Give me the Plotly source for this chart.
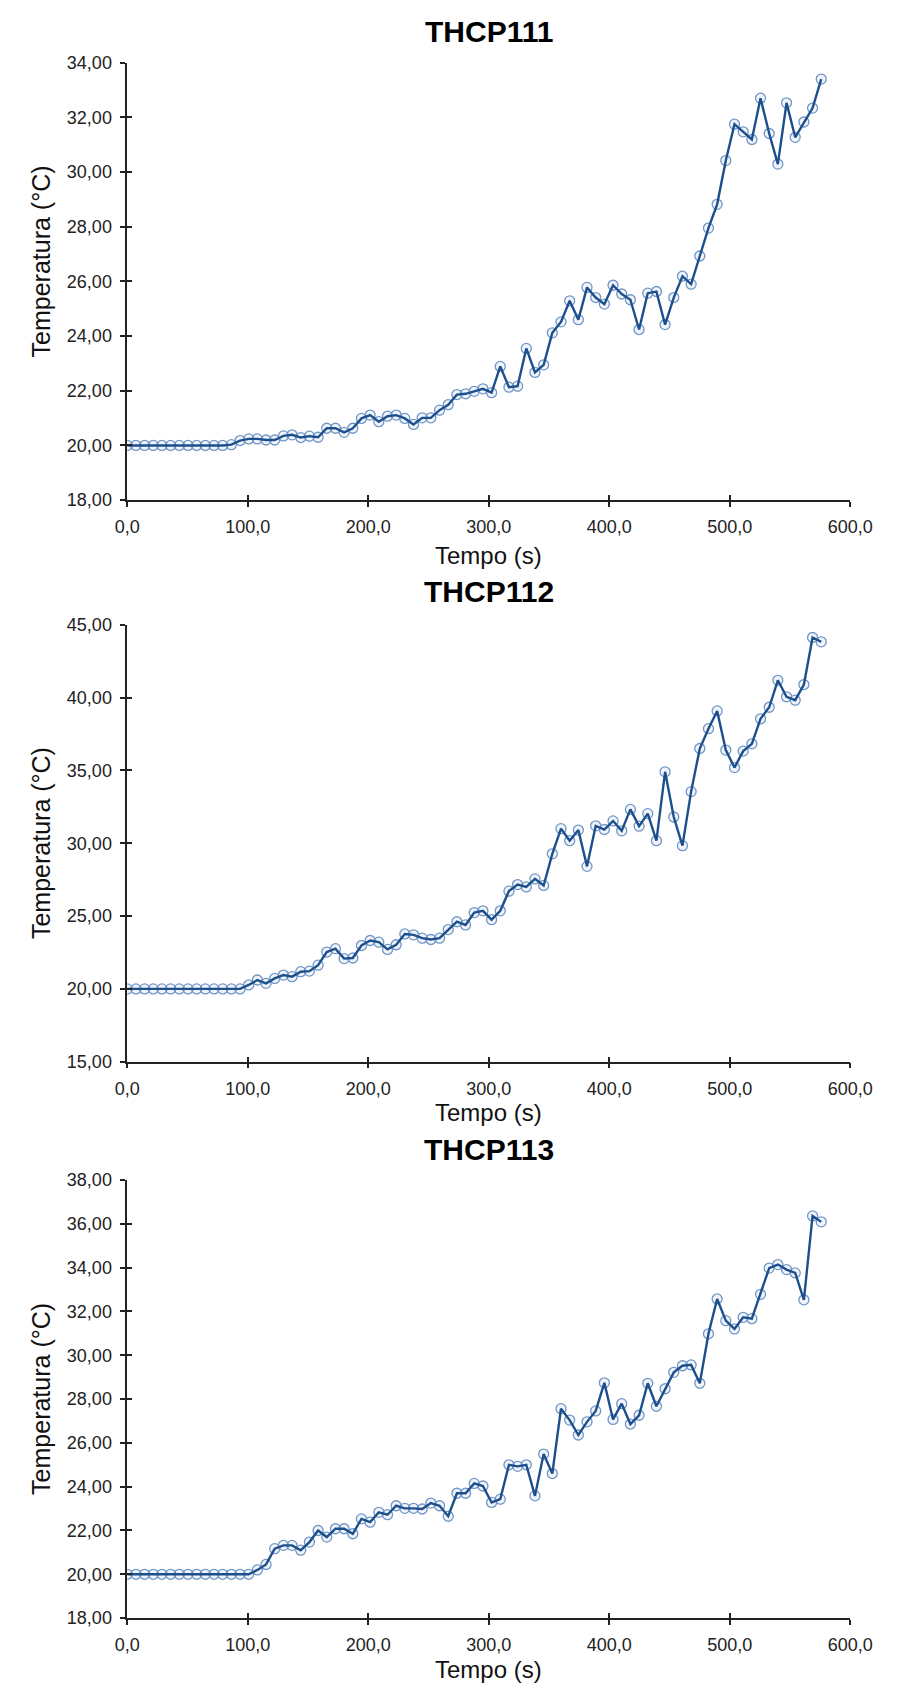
import plotly.graph_objects as go

tempo = [0.0, 7.2, 14.4, 21.6, 28.8, 36.0, 43.2, 50.4, 57.6, 64.8, 72.0, 79.2, 86.4, 93.6,
         100.8, 108.0, 115.2, 122.4, 129.6, 136.8, 144.0, 151.2, 158.4, 165.6, 172.8, 180.0,
         187.2, 194.4, 201.6, 208.8, 216.0, 223.2, 230.4, 237.6, 244.8, 252.0, 259.2, 266.4,
         273.6, 280.8, 288.0, 295.2, 302.4, 309.6, 316.8, 324.0, 331.2, 338.4, 345.6, 352.8,
         360.0, 367.2, 374.4, 381.6, 388.8, 396.0, 403.2, 410.4, 417.6, 424.8, 432.0, 439.2,
         446.4, 453.6, 460.8, 468.0, 475.2, 482.4, 489.6, 496.8, 504.0, 511.2, 518.4, 525.6,
         532.8, 540.0, 547.2, 554.4, 561.6, 568.8, 576.0]

thcp111 = [20.00, 20.00, 20.00, 20.00, 20.00, 20.00, 20.00, 20.00, 20.00, 20.00, 20.00, 20.00, 20.03,
           20.18, 20.24, 20.24, 20.20, 20.20, 20.35, 20.39, 20.29, 20.34, 20.30, 20.63, 20.63,
           20.48, 20.63, 20.99, 21.11, 20.87, 21.07, 21.11, 20.99, 20.77, 21.01, 21.01, 21.29,
           21.49, 21.86, 21.89, 21.98, 22.07, 21.93,
           22.89, 22.13, 22.17, 23.55, 22.67, 22.95, 24.12, 24.52, 25.29, 24.60, 25.78, 25.41,
           25.17, 25.86, 25.54, 25.33, 24.24, 25.57, 25.63, 24.42, 25.41, 26.19, 25.90, 26.93,
           27.95, 28.82, 30.42, 31.75, 31.47, 31.19, 32.70, 31.41, 30.29, 32.53, 31.27, 31.83,
           32.34, 33.40]

thcp112 = [20.00, 20.00, 20.00, 20.00, 20.00, 20.00, 20.00, 20.00, 20.00, 20.00, 20.00, 20.00, 20.00, 20.00,
           20.27, 20.61, 20.38, 20.72, 20.95, 20.84, 21.18, 21.22, 21.63, 22.53, 22.76, 22.08,
           22.12, 22.98, 23.32, 23.21, 22.71, 23.03, 23.77, 23.71, 23.48, 23.39, 23.48, 24.07,
           24.61, 24.39, 25.24, 25.36, 24.75,
           25.36, 26.71, 27.16, 27.00, 27.55, 27.10, 29.27, 31.00, 30.17, 30.90, 28.41, 31.19,
           30.94, 31.53, 30.85, 32.32, 31.17, 32.03, 30.17, 34.90, 31.80, 29.83, 33.54, 36.50,
           37.86, 39.08, 36.39, 35.19, 36.32, 36.82, 38.54, 39.33, 41.18, 40.05, 39.82, 40.89,
           44.12, 43.82]

thcp113 = [20.00, 20.00, 20.00, 20.00, 20.00, 20.00, 20.00, 20.00, 20.00, 20.00, 20.00, 20.00, 20.00, 20.00, 20.00,
           20.20, 20.45, 21.17, 21.32, 21.32, 21.10, 21.47, 22.00, 21.70, 22.08, 22.08, 21.85,
           22.53, 22.38, 22.83, 22.72, 23.13, 23.01, 23.01, 22.98, 23.25, 23.13,
           22.65, 23.70, 23.70, 24.15, 24.03, 23.28, 23.43, 25.00, 24.93, 25.00, 23.58, 25.49,
           24.60, 27.56, 27.04, 26.36, 26.96, 27.46, 28.74, 27.07, 27.79, 26.86, 27.26, 28.72,
           27.67, 28.47, 29.22, 29.52, 29.56, 28.72, 30.98, 32.57, 31.58, 31.20, 31.73, 31.67,
           32.78, 33.98, 34.14, 33.91, 33.76, 32.53, 36.36, 36.09]

titles = ["THCP111", "THCP112", "THCP113"]
series = [thcp111, thcp112, thcp113]
y_ranges = [[18, 34], [15, 45], [18, 38]]
y_dticks = [2, 5, 2]
x_ticks = [0, 100, 200, 300, 400, 500, 600]

W, H = 901, 1695
# pixel layout (top, bottom) of each plot area
plot_px = [(53.3, 496.0), (622.0, 1064.3), (1184.0, 1627.3)]
title_px = [22.0, 588.0, 1153.0]
xtitle_px = [552.0, 1116.0, 1679.0]
ytitle_shift = [-20.0, 0.0, 0.0]
x_left, x_right = 119.0, 872.0

FONT = "Liberation Sans, Arial, sans-serif"
LINE_COLOR = "#1d4f8c"
MARKER_LINE = "#7096c6"
AX = "#222222"

fig = go.Figure()
layout = dict(
    width=W, height=H, margin=dict(l=0, r=0, t=0, b=0),
    paper_bgcolor="white", plot_bgcolor="white",
    showlegend=False, separators=",.",
    font=dict(family=FONT, color=AX, size=18),
)
annotations = []
xdom = [x_left / W, x_right / W]

for k in range(3):
    n = k + 1
    ov = k + 4
    top, bot = plot_px[k]
    ydom = [1 - bot / H, 1 - top / H]
    xa = "x" if n == 1 else f"x{n}"
    ya = "y" if n == 1 else f"y{n}"
    xkey = "xaxis" if n == 1 else f"xaxis{n}"
    ykey = "yaxis" if n == 1 else f"yaxis{n}"

    fig.add_trace(go.Scatter(
        x=tempo, y=series[k], mode="markers", xaxis=xa, yaxis=ya,
        marker=dict(symbol="circle", size=10, color="rgba(160,190,225,0.15)",
                    line=dict(color=MARKER_LINE, width=1.3)),
        hoverinfo="skip"))
    fig.add_trace(go.Scatter(
        x=tempo, y=series[k], mode="lines", xaxis=xa, yaxis=ya,
        line=dict(color=LINE_COLOR, width=2.4), name=titles[k]))
    # invisible copy for the overlay (inside-tick) axes
    fig.add_trace(go.Scatter(
        x=tempo, y=series[k], mode="lines", xaxis=f"x{ov}", yaxis=f"y{ov}",
        line=dict(width=0, color="rgba(0,0,0,0)"), hoverinfo="skip"))

    common_x = dict(range=[0, 600], tickvals=x_ticks, domain=xdom,
                    showgrid=False, zeroline=False, fixedrange=True)
    common_y = dict(range=y_ranges[k], dtick=y_dticks[k], tick0=y_ranges[k][0],
                    domain=ydom, showgrid=False, zeroline=False, fixedrange=True)

    layout[xkey] = dict(**common_x, anchor=ya, showline=True, linecolor=AX, linewidth=1.5,
                        ticks="outside", ticklen=5, tickwidth=1.5, tickcolor=AX,
                        tickformat=".1f", ticklabelstandoff=5,
                        tickfont=dict(family=FONT, size=18, color=AX))
    layout[ykey] = dict(**common_y, anchor=xa, showline=True, linecolor=AX, linewidth=1.5,
                        ticks="outside", ticklen=5, tickwidth=1.5, tickcolor=AX,
                        tickformat=".2f", ticklabelstandoff=5,
                        tickfont=dict(family=FONT, size=18, color=AX))
    layout[f"xaxis{ov}"] = dict(**common_x, anchor=f"y{ov}", overlaying=xa, showline=False,
                                ticks="inside", ticklen=5, tickwidth=1.5, tickcolor=AX,
                                showticklabels=False)
    layout[f"yaxis{ov}"] = dict(**common_y, anchor=f"x{ov}", overlaying=ya, showline=False,
                                ticks="inside", ticklen=5, tickwidth=1.5, tickcolor=AX,
                                showticklabels=False)

    xc = (xdom[0] + xdom[1]) / 2
    annotations.append(dict(text=f"<b>{titles[k]}</b>", x=xc, y=1 - title_px[k] / H,
                            xref="paper", yref="paper", showarrow=False,
                            xanchor="center", yanchor="middle",
                            font=dict(family=FONT, size=30, color="#000000")))
    annotations.append(dict(text="Tempo (s)", x=xc, y=1 - xtitle_px[k] / H,
                            xref="paper", yref="paper", showarrow=False,
                            xanchor="center", yanchor="middle",
                            font=dict(family=FONT, size=24, color="#111111")))
    ymid = (top + bot) / 2 + ytitle_shift[k]
    annotations.append(dict(text="Temperatura (°C)", x=29 / W, y=1 - ymid / H,
                            xref="paper", yref="paper", showarrow=False, textangle=-90,
                            xanchor="center", yanchor="middle",
                            font=dict(family=FONT, size=25, color="#111111")))

layout["annotations"] = annotations
fig.update_layout(**layout)
fig.write_html("out.html")
